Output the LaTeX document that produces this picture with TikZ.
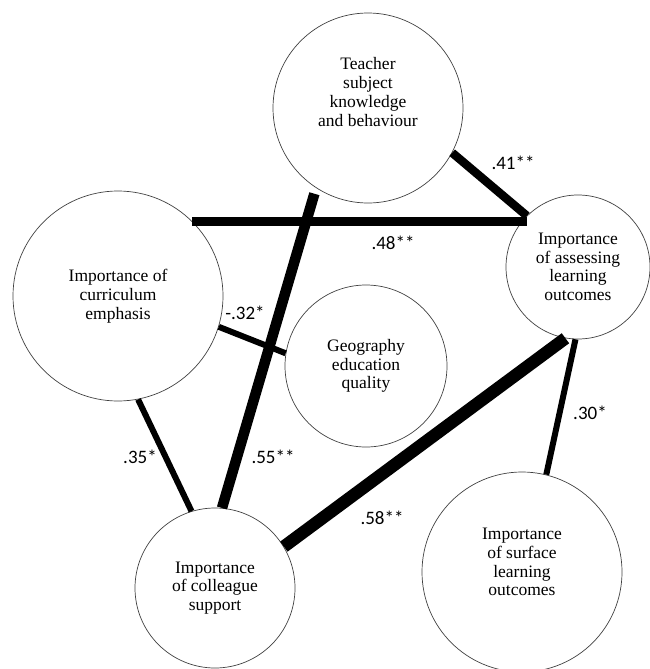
\documentclass[tikz,border=0pt]{standalone}
\usepackage{fontspec}
\setmainfont{Liberation Serif}
\newfontfamily\coeffont{Carlito}

\begin{document}
\begin{tikzpicture}[x=1pt, y=-1pt,
    var/.style={circle, draw=black!75, line width=0.7pt, inner sep=0pt, align=center,
      font=\fontsize{17.5}{18.7}\selectfont},
    coef/.style={inner sep=0pt, font=\coeffont\fontsize{19}{19}\selectfont},
    lowlink/.style={line width=6pt},
    midlink/.style={line width=8.5pt},
    highlink/.style={line width=10.5pt},
    toplink/.style={line width=12.5pt}]
    \useasboundingbox (0,0) rectangle (649,669);
    % factors
    \node[var, minimum size=190pt, label={[align=center, yshift=16pt,
      font=\fontsize{17.5}{18.7}\selectfont]center:Teacher\\subject\\knowledge\\and behaviour}]
      (tea) at (368,108) {};
    \node[var, minimum size=210pt] (cur) at (118,296) {Importance of\\curriculum\\emphasis};
    \node[var, minimum size=144pt] (ass) at (578,267) {Importance\\of assessing\\learning\\outcomes};
    \node[var, minimum size=162pt] (geo) at (366,366) {Geography\\education\\quality};
    \node[var, minimum size=160pt] (col) at (215,588) {Importance\\of colleague\\support};
    \node[var, minimum size=200pt, label={[align=center, yshift=10pt,
      font=\fontsize{17.5}{18.7}\selectfont]center:Importance\\of surface\\learning\\outcomes}]
      (sur) at (522,572) {};
    % correlations
    \draw[midlink] (tea.-28) -- (ass.135);
    \draw[midlink] (cur.45) -- (cur.45 -| ass.135);
    \draw[lowlink] (cur.-17) -- (geo.171);
    \draw[lowlink] (cur.-79) -- (col.107);
    \draw[highlink, shorten <=6pt] (tea.237) -- (col.85);
    \draw[toplink] (col.31) -- (ass.260);
    \draw[lowlink] (ass.268) -- (sur.76);
    \node[coef] (c41) at (513,163) {.41**};
    \node[coef] (c48) at (393,243) {.48**};
    \node[coef] (c32) at (245,313) {-.32*};
    \node[coef] (c35) at (140,457) {.35*};
    \node[coef] (c55) at (273,457) {.55**};
    \node[coef] (c58) at (382,518) {.58**};
    \node[coef] (c30) at (590,413) {.30*};
  \end{tikzpicture}
\end{document}
